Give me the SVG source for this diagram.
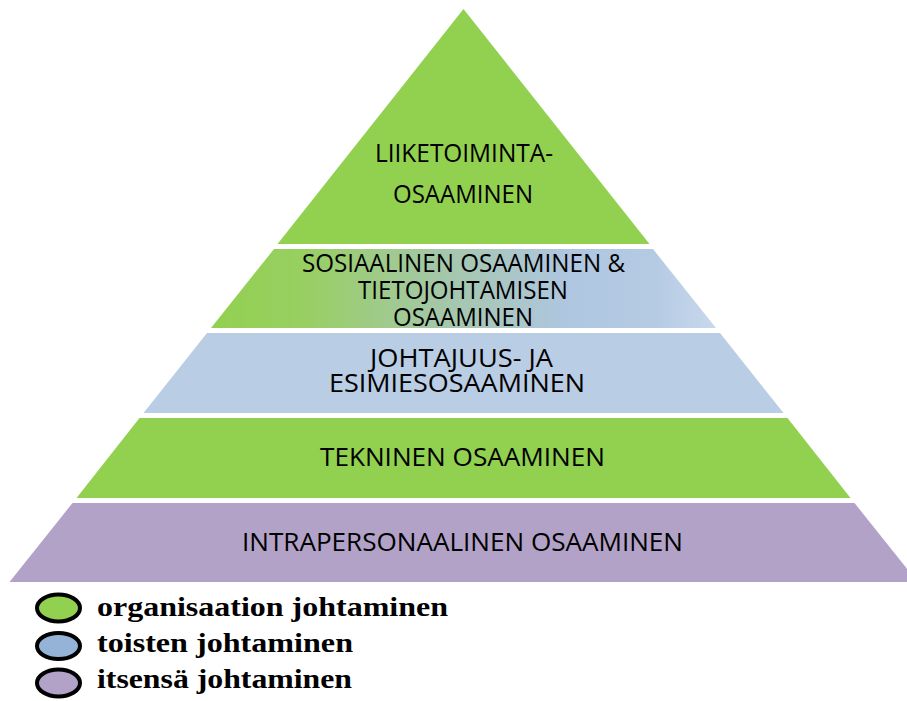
<svg xmlns="http://www.w3.org/2000/svg" width="907" height="701" viewBox="0 0 907 701">
  <defs>
    <linearGradient id="band2Fill" x1="214" y1="0" x2="716" y2="0" gradientUnits="userSpaceOnUse">
      <stop offset="0" stop-color="#92D050"/>
      <stop offset="0.18" stop-color="#98CF62"/>
      <stop offset="0.45" stop-color="#A4C7A8"/>
      <stop offset="0.7" stop-color="#AFC6E0"/>
      <stop offset="0.88" stop-color="#B5CBE4"/>
      <stop offset="1" stop-color="#C9D8EC"/>
    </linearGradient>
  </defs>
  <style>
    .green { fill: #92D050; }
    .blue { fill: #B9CDE5; }
    .purple { fill: #B3A2C7; }
    .lbl { font-family: "Open Sans", "Liberation Sans", sans-serif; font-size: 25px; fill: #000; text-anchor: middle; }
    .leg { font-family: "Liberation Serif", "DejaVu Serif", serif; font-weight: bold; font-size: 28px; fill: #000; }
    .dot { stroke: #000; stroke-width: 4; }
  </style>
  <rect width="907" height="701" fill="#fff"/>

  <g id="level-business">
    <polygon class="green" points="463.5,9 649.5,244 277.5,244"/>
    <text class="lbl" x="464" y="162" textLength="178" lengthAdjust="spacingAndGlyphs">LIIKETOIMINTA-</text>
    <text class="lbl" x="463" y="203" textLength="140" lengthAdjust="spacingAndGlyphs">OSAAMINEN</text>
  </g>

  <g id="level-social">
    <polygon fill="url(#band2Fill)" points="274,249 653,249 716,328 211,328"/>
    <text class="lbl" x="463.5" y="272" textLength="323" lengthAdjust="spacingAndGlyphs">SOSIAALINEN OSAAMINEN &amp;</text>
    <text class="lbl" x="463" y="299" textLength="210" lengthAdjust="spacingAndGlyphs">TIETOJOHTAMISEN</text>
    <text class="lbl" x="463" y="326" textLength="140" lengthAdjust="spacingAndGlyphs">OSAAMINEN</text>
  </g>

  <g id="level-leadership">
    <polygon class="blue" points="207,333 720,333 783.5,413 143.5,413"/>
    <text class="lbl" x="461.5" y="367" textLength="183" lengthAdjust="spacingAndGlyphs">JOHTAJUUS- JA</text>
    <text class="lbl" x="457" y="392" textLength="256" lengthAdjust="spacingAndGlyphs">ESIMIESOSAAMINEN</text>
  </g>

  <g id="level-technical">
    <polygon class="green" points="139.5,418 787.5,418 850.5,498 76.5,498"/>
    <text class="lbl" x="462.5" y="466" textLength="285" lengthAdjust="spacingAndGlyphs">TEKNINEN OSAAMINEN</text>
  </g>

  <g id="level-intrapersonal">
    <polygon class="purple" points="72.5,503 854.5,503 917.5,582 9.5,582"/>
    <text class="lbl" x="462.5" y="551" textLength="441" lengthAdjust="spacingAndGlyphs">INTRAPERSONAALINEN OSAAMINEN</text>
  </g>

  <g id="legend">
    <g id="legend-organisation">
      <ellipse class="dot" cx="58.5" cy="608" rx="21.5" ry="13.5" fill="#92D050"/>
      <text class="leg" x="97" y="616" textLength="351" lengthAdjust="spacingAndGlyphs">organisaation johtaminen</text>
    </g>
    <g id="legend-others">
      <ellipse class="dot" cx="58.5" cy="646" rx="21.5" ry="13" fill="#95B3D7"/>
      <text class="leg" x="97" y="652" textLength="256" lengthAdjust="spacingAndGlyphs">toisten johtaminen</text>
    </g>
    <g id="legend-self">
      <ellipse class="dot" cx="58.5" cy="683" rx="21.5" ry="13.5" fill="#B3A2C7"/>
      <text class="leg" x="97" y="688" textLength="255" lengthAdjust="spacingAndGlyphs">itsensä johtaminen</text>
    </g>
  </g>
</svg>
